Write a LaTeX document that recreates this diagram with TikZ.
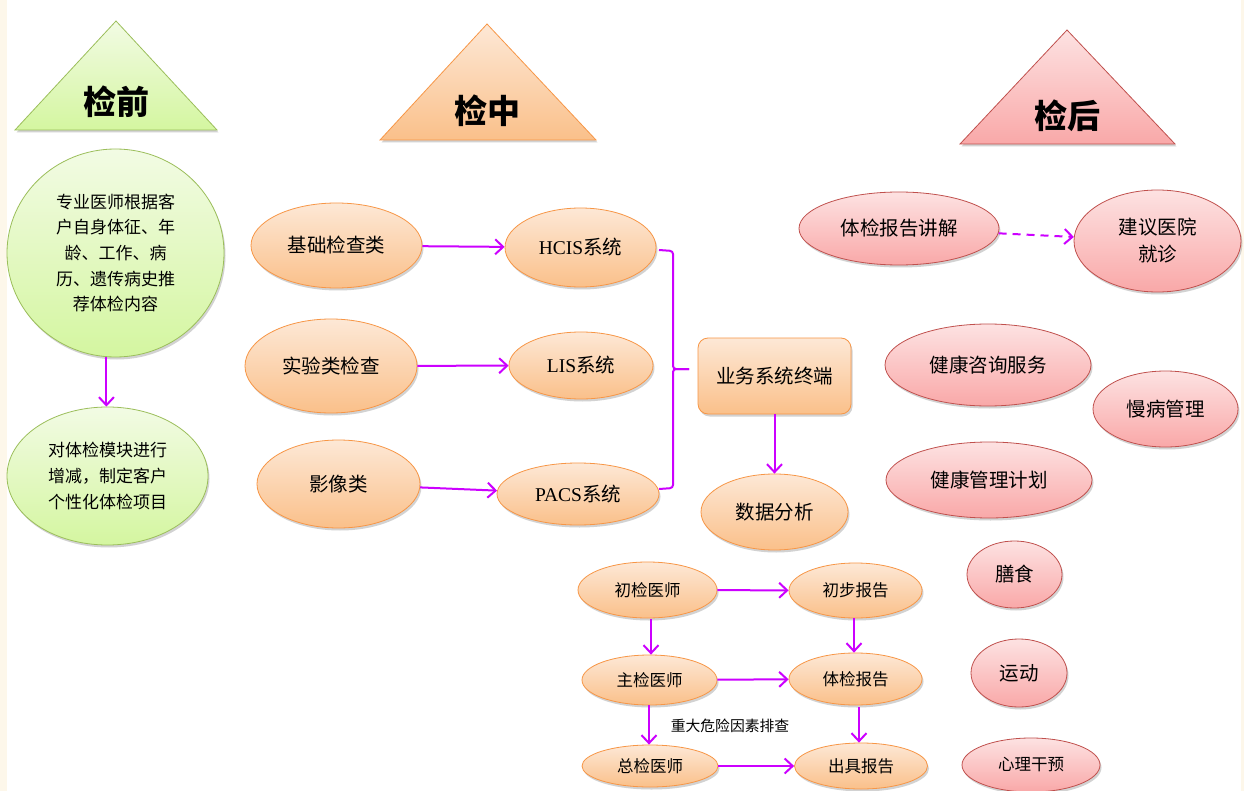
\documentclass[tikz,border=0pt]{standalone}
\usepackage{fontspec}
\setmainfont{Noto Sans CJK SC}
\newfontfamily\lat{Liberation Serif}
\usetikzlibrary{arrows.meta,shadows,shapes.geometric}
\definecolor{mag}{RGB}{204,0,255}
\definecolor{cream}{RGB}{253,247,234}
\definecolor{grnT}{RGB}{242,251,228}
\definecolor{grnM}{RGB}{212,246,160}
\definecolor{grnB}{RGB}{155,190,90}
\definecolor{orgT}{RGB}{253,232,214}
\definecolor{orgM}{RGB}{250,192,138}
\definecolor{orgB}{RGB}{247,150,70}
\definecolor{pnkT}{RGB}{253,226,226}
\definecolor{pnkM}{RGB}{249,168,168}
\definecolor{pnkB}{RGB}{192,80,77}
\begin{document}
\begin{tikzpicture}[x=1pt,y=-1pt,
  every node/.style={inner sep=0pt},
  shad/.style={drop shadow={opacity=0.25,shadow xshift=1.5pt,shadow yshift=-2.5pt,fill=black!70}},
  gell/.style={ellipse,draw=grnB,line width=0.8pt,top color=grnT,bottom color=grnM,shad,align=center,font=\fontsize{17}{25.7}\selectfont},
  oell/.style={ellipse,draw=orgB,line width=0.8pt,top color=orgT,bottom color=orgM,shad,align=center,font=\fontsize{19.5}{24}\selectfont},
  osml/.style={oell,font=\fontsize{16.5}{20}\selectfont},
  pell/.style={ellipse,draw=pnkB,line width=0.8pt,top color=pnkT,bottom color=pnkM,shad,align=center,font=\fontsize{19.5}{27}\selectfont},
  obox/.style={rectangle,rounded corners=10pt,draw=orgB,line width=0.8pt,top color=orgT,bottom color=orgM,shad,font=\fontsize{19.5}{24}\selectfont},
  head/.style={font=\fontsize{33}{33}\selectfont\bfseries},
  arr/.style={draw=mag,line width=2pt,-{Straight Barb[length=8pt,width=15pt,line width=2pt]}},
  brc/.style={draw=mag,line width=2pt,rounded corners=3pt},
  lbl/.style={font=\fontsize{14.8}{18}\selectfont}
]
\useasboundingbox (0,0) rectangle (1244,791);
\fill[white] (0,0) rectangle (1244,791);
\fill[cream] (0,0) rectangle (7,791);
\fill[cream] (1241,0) rectangle (1244,791);

% triangles
\path[draw=grnB,line width=0.8pt,top color=grnT,bottom color=grnM,shad] (116,21) -- (217,130) -- (15,130) -- cycle;
\path[draw=orgB,line width=0.8pt,top color=orgT,bottom color=orgM,shad] (487,24) -- (596,140) -- (380,140) -- cycle;
\path[draw=pnkB,line width=0.8pt,top color=pnkT,bottom color=pnkM,shad] (1067,30) -- (1175,144) -- (960,144) -- cycle;
\node[head] (h1) at (116,102) {检前};
\node[head] (h2) at (487,111) {检中};
\node[head] (h3) at (1067,116) {检后};

% left column
\node[gell,minimum width=217pt,minimum height=208pt] (g1) at (115.5,253) {专业医师根据客\\户自身体征、年\\龄、工作、病\\历、遗传病史推\\荐体检内容};
\node[gell,minimum width=201pt,minimum height=138pt,font=\fontsize{17}{26}\selectfont] (g2) at (107.5,476) {对体检模块进行\\增减，制定客户\\个性化体检项目};
\draw[arr] (g1.265) -- (g1.265 |- g2.north);

% middle column
\node[oell,minimum width=171pt,minimum height=85pt] (jc) at (336.5,245.5) {基础检查类};
\node[oell,minimum width=151pt,minimum height=79pt] (hcis) at (580.5,247.5) {{\lat HCIS}系统};
\node[oell,minimum width=172pt,minimum height=94pt] (sy) at (331,366) {实验类检查};
\node[oell,minimum width=144pt,minimum height=67pt] (lis) at (581,365.5) {{\lat LIS}系统};
\node[oell,minimum width=163pt,minimum height=88pt] (yx) at (338.5,484) {影像类};
\node[oell,minimum width=162pt,minimum height=62pt] (pacs) at (578,494) {{\lat PACS}系统};
\draw[arr] (jc) -- (hcis);
\draw[arr] (sy) -- (lis);
\draw[arr] (yx) -- (pacs);

% brace
\coordinate (bt) at (659,250);
\coordinate (bm) at (689,369);
\coordinate (bb) at (659,489);
\draw[brc] (bt) -- (673,251) -- (673,369) -- (bm);
\draw[brc] (bm) -- (673,369) -- (673,488) -- (bb);

\node[obox,minimum width=153pt,minimum height=76pt] (yw) at (774.5,376) {业务系统终端};
\node[oell,minimum width=147pt,minimum height=76pt] (sj) at (774.5,512) {数据分析};
\draw[arr] (yw) -- (sj);

% bottom flow
\node[osml,minimum width=139pt,minimum height=56pt] (cj) at (647.5,590) {初检医师};
\node[osml,minimum width=133pt,minimum height=55pt] (cb) at (855.5,590.5) {初步报告};
\node[osml,minimum width=135pt,minimum height=50pt] (zj) at (649.5,680) {主检医师};
\node[osml,minimum width=133pt,minimum height=52pt] (tb) at (855.5,679) {体检报告};
\node[osml,minimum width=136pt,minimum height=42pt] (zong) at (650,766) {总检医师};
\node[osml,minimum width=133pt,minimum height=46pt] (cu) at (861,766) {出具报告};
\draw[arr] (cj) -- (cb);
\draw[arr] (zj) -- (tb);
\draw[arr] (zong) -- (cu);
\draw[arr] ([yshift=-1pt]cj.south -| 651,0) -- (zj.north -| 651,0);
\draw[arr] (cb.south -| 854,0) -- (tb.north -| 854,0);
\draw[arr] (zj.south -| 649,0) -- (zong.north -| 649,0);
\draw[arr] ([yshift=-2pt]tb.south -| 859,0) -- (cu.north -| 859,0);
\node[lbl] (risk) at (730,726) {重大危险因素排查};

% right column
\node[pell,minimum width=200pt,minimum height=73pt] (jj) at (899,228.5) {体检报告讲解};
\node[pell,minimum width=167pt,minimum height=102pt] (jy) at (1157.5,241) {建议医院\\就诊};
\draw[arr,dash pattern=on 8pt off 6pt] (jj) -- (jy);
\node[pell,minimum width=206pt,minimum height=82pt] (zx) at (988,365) {健康咨询服务};
\node[pell,minimum width=145pt,minimum height=76pt] (mb) at (1165.5,409) {慢病管理};
\node[pell,minimum width=206pt,minimum height=76pt] (jh) at (989,480) {健康管理计划};
\node[pell,minimum width=95pt,minimum height=67pt] (ss) at (1014.5,574.5) {膳食};
\node[pell,minimum width=96pt,minimum height=68pt] (yd) at (1019,673) {运动};
\node[pell,minimum width=138pt,minimum height=54pt,font=\fontsize{16.5}{20}\selectfont] (xl) at (1031,765) {心理干预};
\end{tikzpicture}
\end{document}
